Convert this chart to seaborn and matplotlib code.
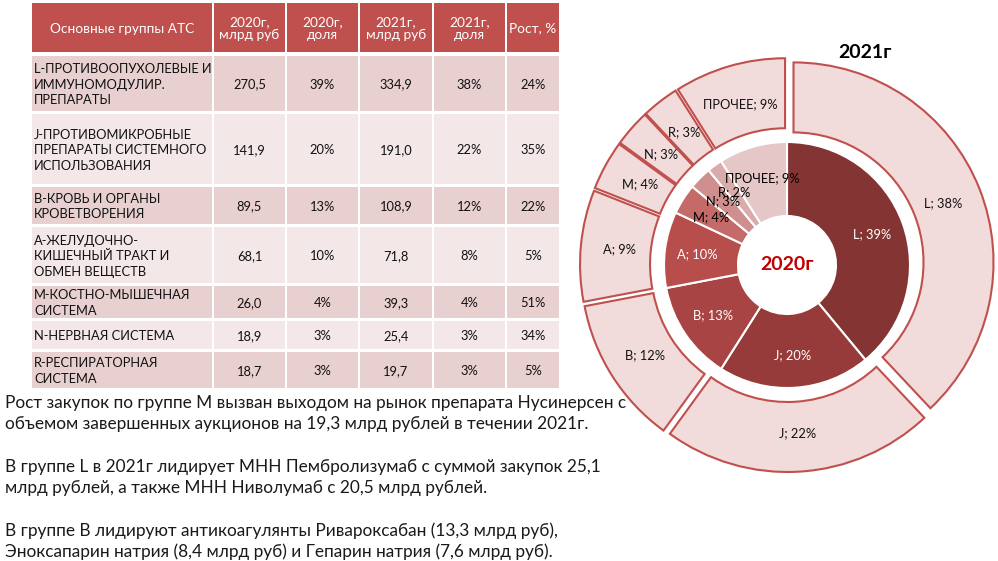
import numpy as np
import matplotlib
matplotlib.use("Agg")
import matplotlib.pyplot as plt
from matplotlib.patches import Rectangle
import seaborn as sns

# ---------------- data ----------------
header = ["Основные группы АТС", "2020г,\nмлрд руб", "2020г,\nдоля",
          "2021г,\nмлрд руб", "2021г,\nдоля", "Рост, %"]
groups = ["L-ПРОТИВООПУХОЛЕВЫЕ И\nИММУНОМОДУЛИР.\nПРЕПАРАТЫ",
          "J-ПРОТИВОМИКРОБНЫЕ\nПРЕПАРАТЫ СИСТЕМНОГО\nИСПОЛЬЗОВАНИЯ",
          "B-КРОВЬ И ОРГАНЫ\nКРОВЕТВОРЕНИЯ",
          "А-ЖЕЛУДОЧНО-\nКИШЕЧНЫЙ ТРАКТ И\nОБМЕН ВЕЩЕСТВ",
          "М-КОСТНО-МЫШЕЧНАЯ\nСИСТЕМА",
          "N-НЕРВНАЯ СИСТЕМА",
          "R-РЕСПИРАТОРНАЯ\nСИСТЕМА"]
val_2020 = ["270,5", "141,9", "89,5", "68,1", "26,0", "18,9", "18,7"]
share_2020 = ["39%", "20%", "13%", "10%", "4%", "3%", "3%"]
val_2021 = ["334,9", "191,0", "108,9", "71,8", "39,3", "25,4", "19,7"]
share_2021 = ["38%", "22%", "12%", "8%", "4%", "3%", "3%"]
growth = ["24%", "35%", "22%", "5%", "51%", "34%", "5%"]

ring_labels = ["L", "J", "B", "A", "M", "N", "R", "ПРОЧЕЕ"]
inner_pct = [39, 20, 13, 10, 4, 3, 2, 9]   # 2020
outer_pct = [38, 22, 12, 9, 4, 3, 3, 9]    # 2021

notes = ["Рост закупок по группе М вызван выходом на рынок препарата Нусинерсен с",
         "объемом завершенных аукционов на 19,3 млрд рублей в течении 2021г.",
         "",
         "В группе L в 2021г лидирует МНН Пембролизумаб с суммой закупок 25,1",
         "млрд рублей, а также МНН Ниволумаб с 20,5 млрд рублей.",
         "",
         "В группе B лидируют антикоагулянты Ривароксабан (13,3 млрд руб),",
         "Эноксапарин натрия (8,4 млрд руб) и Гепарин натрия (7,6 млрд руб)."]

# ---------------- style ----------------
sns.set_theme(style="white")
plt.rcParams["font.family"] = ["Lato", "DejaVu Sans"]

W, H = 998, 561
fig = plt.figure(figsize=(W / 100, H / 100), dpi=100)

# ---------------- table (pixel-coordinate overlay axes) ----------------
tab = fig.add_axes([0, 0, 1, 1])
tab.set_xlim(0, W)
tab.set_ylim(H, 0)
tab.axis("off")

col_edges = [31, 213, 286, 359, 433, 506, 560]
row_edges = [(3, 52), (56, 111), (114, 184), (187, 224), (227, 283),
             (286, 318), (321, 349), (352, 388)]
hdr_color = "#C0504D"
row_colors = ["#E8D0D1", "#F3E7E7"]
tsize = 9.3

for c in range(6):
    x0, x1 = col_edges[c] + 1, col_edges[c + 1] - 1
    y0, y1 = row_edges[0]
    tab.add_patch(Rectangle((x0, y0), x1 - x0, y1 - y0, facecolor=hdr_color,
                            edgecolor="none"))
    tab.text((x0 + x1) / 2, (y0 + y1) / 2 + 1, header[c], color="white",
             ha="center", va="center", fontsize=9.8, linespacing=1.15)

rows = list(zip(groups, val_2020, share_2020, val_2021, share_2021, growth))
for r, row in enumerate(rows):
    y0, y1 = row_edges[r + 1]
    for c in range(6):
        x0, x1 = col_edges[c] + 1, col_edges[c + 1] - 1
        tab.add_patch(Rectangle((x0, y0), x1 - x0, y1 - y0,
                                facecolor=row_colors[r % 2], edgecolor="none"))
        if c == 0:
            tab.text(x0 + 2, (y0 + y1) / 2 + 1, row[c], color="#111111",
                     ha="left", va="center", fontsize=tsize, linespacing=1.35)
        else:
            tab.text((x0 + x1) / 2, (y0 + y1) / 2 + 1, row[c], color="#111111",
                     ha="center", va="center", fontsize=tsize)

# ---------------- donuts ----------------
cx, cy, half = 787, 265, 230
ax = fig.add_axes([(cx - half) / W, (H - cy - half) / H, 2 * half / W, 2 * half / H])

outer_fill = "#F2DCDB"
outer_edge = "#C0504D"
inner_colors = ["#843432", "#963B3A", "#A84544", "#B84E4C",
                "#C46A69", "#CF8F8E", "#D9ABAB", "#E6C7C7"]
inner_text = ["white", "white", "white", "white", "black", "black", "black", "black"]

wo, _ = ax.pie(outer_pct, radius=1.0, startangle=90, counterclock=False,
               explode=[0.035] * len(outer_pct), colors=[outer_fill] * len(outer_pct),
               wedgeprops=dict(width=0.35, edgecolor=outer_edge, linewidth=1.5))
wi, _ = ax.pie(inner_pct, radius=0.615, startangle=90, counterclock=False,
               colors=inner_colors,
               wedgeprops=dict(width=0.37, edgecolor="white", linewidth=1.5))
ax.set_xlim(-1.15, 1.15)
ax.set_ylim(-1.15, 1.15)
ax.set_aspect("equal")
ax.axis("off")

for w, lab, p in zip(wo, ring_labels, outer_pct):
    ang = np.deg2rad((w.theta1 + w.theta2) / 2)
    ax.text(0.84 * np.cos(ang), 0.84 * np.sin(ang), f"{lab}; {p}%",
            ha="center", va="center", fontsize=9.3, color="#111111")
for w, lab, p, tc in zip(wi, ring_labels, inner_pct, inner_text):
    ang = np.deg2rad((w.theta1 + w.theta2) / 2)
    ax.text(0.45 * np.cos(ang), 0.45 * np.sin(ang), f"{lab}; {p}%",
            ha="center", va="center", fontsize=9.3, color=tc)

ax.text(0, 0, "2020г", ha="center", va="center", fontsize=14,
        fontweight="bold", color="#C00000")
tab.text(865, 52, "2021г", ha="center", va="center", fontsize=14,
         fontweight="bold", color="black")

# ---------------- notes (drawn above the donut) ----------------
notes_ax = fig.add_axes([0, 0, 1, 1], zorder=5)
notes_ax.set_xlim(0, W)
notes_ax.set_ylim(H, 0)
notes_ax.axis("off")
y = 403
for line in notes:
    if line:
        notes_ax.text(5, y, line, ha="left", va="center", fontsize=12.4,
                      color="#1a1a1a")
    y += 21.3

fig.savefig("out.png", dpi=100)
